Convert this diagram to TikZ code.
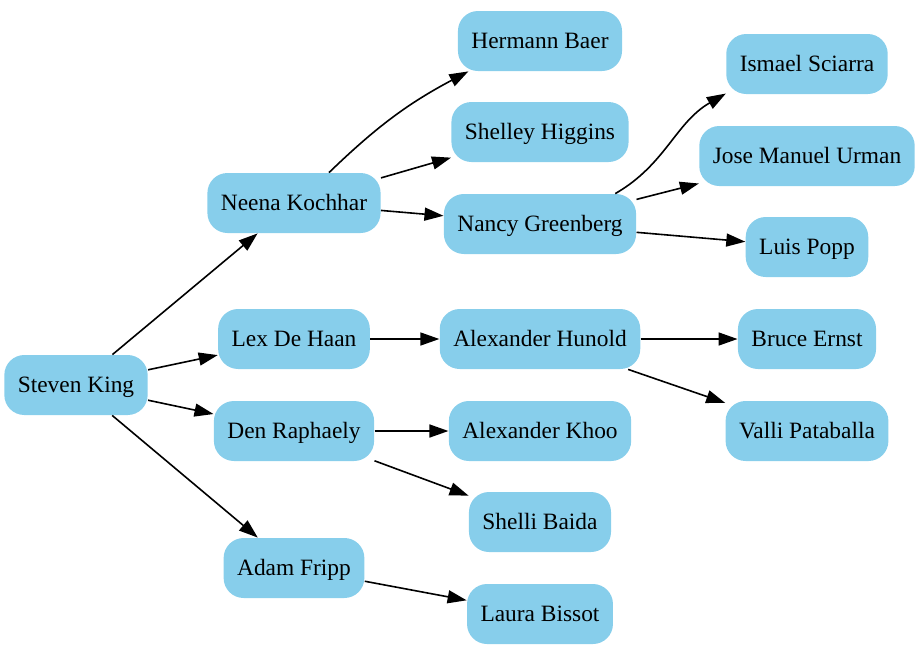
\documentclass[tikz,border=0pt]{standalone}
\usepackage{fontspec}
\setmainfont{Liberation Serif}
\usepackage{tikz}
\usetikzlibrary{arrows.meta}
\definecolor{skyblue}{HTML}{87CEEB}

\tikzset{
  emp/.style={rounded corners=10pt, fill=skyblue, inner xsep=6.75pt, inner ysep=0pt, minimum height=30pt, text height=7.8pt, text depth=0pt, font=\fontsize{11.7pt}{14pt}\selectfont},
  link/.style={-{Triangle[length=9.5pt,width=6.5pt]}, line width=0.8pt}
}

\begin{document}
\begin{tikzpicture}[x=0.5pt,y=0.5pt]
\useasboundingbox (0,0) rectangle (922,-660);

% root
\node [emp] (king) at (76,-385) {Steven King};

% second level
\node [emp] (kochhar) at (294,-203) {Neena Kochhar};
\node [emp] (dehaan) at (294,-339) {Lex De Haan};
\node [emp] (raphaely) at (294,-431) {Den Raphaely};
\node [emp] (fripp) at (294,-568) {Adam Fripp};

% third level
\node [emp] (baer) at (540,-41) {Hermann Baer};
\node [emp] (higgins) at (540,-132) {Shelley Higgins};
\node [emp] (greenberg) at (540,-224) {Nancy Greenberg};
\node [emp] (hunold) at (540,-339) {Alexander Hunold};
\node [emp] (khoo) at (540,-431) {Alexander Khoo};
\node [emp] (baida) at (540,-522) {Shelli Baida};
\node [emp] (bissot) at (540,-614) {Laura Bissot};

% fourth level
\node [emp] (sciarra) at (807,-64) {Ismael Sciarra};
\node [emp] (urman) at (807,-156) {Jose Manuel Urman};
\node [emp] (popp) at (807,-247) {Luis Popp};
\node [emp] (ernst) at (807,-339) {Bruce Ernst};
\node [emp] (pataballa) at (807,-431) {Valli Pataballa};

\draw [link] (king) -- (kochhar);
\draw [link] (king) -- (dehaan);
\draw [link] (king) -- (raphaely);
\draw [link] (king) -- (fripp);

\draw [link] (kochhar.41) to [out=44,in=208] (baer.203);
\draw [link] (kochhar) -- (higgins);
\draw [link] (kochhar) -- (greenberg);
\draw [link] (dehaan) -- (hunold);
\draw [link] (raphaely) -- (khoo);
\draw [link] (raphaely) -- (baida);
\draw [link] (fripp) -- (bissot);

\draw [link] (greenberg.22) to [out=30,in=210] (sciarra.200);
\draw [link] (greenberg) -- (urman);
\draw [link] (greenberg) -- (popp);
\draw [link] (hunold) -- (ernst);
\draw [link] (hunold) -- (pataballa);

\end{tikzpicture}
\end{document}
